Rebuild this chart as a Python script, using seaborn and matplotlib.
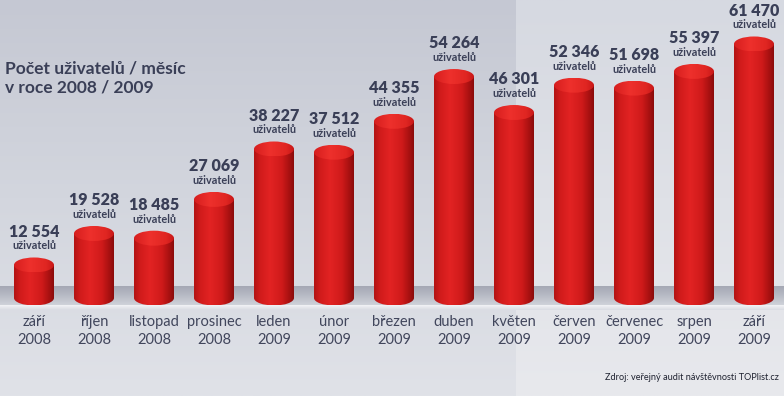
import numpy as np
import matplotlib
matplotlib.use('Agg')
import matplotlib.pyplot as plt
import seaborn as sns
from matplotlib.colors import LinearSegmentedColormap
from matplotlib.patches import Ellipse

months = ['září', 'říjen', 'listopad', 'prosinec', 'leden', 'únor', 'březen',
          'duben', 'květen', 'červen', 'červenec', 'srpen', 'září']
years = ['2008', '2008', '2008', '2008', '2009', '2009', '2009',
         '2009', '2009', '2009', '2009', '2009', '2009']
users = [12554, 19528, 18485, 27069, 38227, 37512, 44355,
         54264, 46301, 52346, 51698, 55397, 61470]
value_labels = ['12 554', '19 528', '18 485', '27 069', '38 227', '37 512', '44 355',
                '54 264', '46 301', '52 346', '51 698', '55 397', '61 470']

TEXT = '#3a3f57'
W, H = 784, 396

sns.set_theme(style='white')
plt.rcParams['font.family'] = ['Lato', 'DejaVu Sans']

fig = plt.figure(figsize=(W / 100, H / 100), dpi=100)
ax = fig.add_axes([0, 0, 1, 1])

# y scale: px per unit ~0.004518, zero ~321.7 px from top
y_lo, y_hi = -16445, 71204
x_lo, x_hi = -34 / 60, (W - 34) / 60
px = (y_hi - y_lo) / H          # data units per pixel
base = y_lo + (H - 298) * px     # cylinder bottom
ell_h = 15 * px
bar_w = 40 / 60

# background panels
grad_v = np.linspace(0, 1, 256).reshape(-1, 1)
left_bg = LinearSegmentedColormap.from_list('lb', ['#c5c8d3', '#d3d6de', '#e0e2e8'])
right_bg = LinearSegmentedColormap.from_list('rb', ['#d6d9e1', '#dfe1e7', '#e8e9ed'])
split = 516 / W
ax.imshow(grad_v, cmap=left_bg, extent=(0, split, 0, 1), transform=ax.transAxes,
          aspect='auto', origin='upper', zorder=0)
ax.imshow(grad_v, cmap=right_bg, extent=(split, 1, 0, 1), transform=ax.transAxes,
          aspect='auto', origin='upper', zorder=0)

# shelf under the cylinders
shelf = LinearSegmentedColormap.from_list('sh', ['#a4a8b4', '#b9bcc6', '#d2d5dc'])
ax.imshow(grad_v, cmap=shelf, extent=(0, 1, 1 - 306 / H, 1 - 286 / H),
          transform=ax.transAxes, aspect='auto', origin='upper', zorder=1)
ax.imshow(grad_v, cmap=LinearSegmentedColormap.from_list('ln', ['#f2f3f6', '#d9dbe2']),
          extent=(0, 1, 1 - 310 / H, 1 - 306 / H), transform=ax.transAxes,
          aspect='auto', origin='upper', zorder=1)

sns.barplot(x=list(range(len(users))), y=users, ax=ax, color='#d41c1c',
            width=bar_w, linewidth=0, zorder=3)

body = LinearSegmentedColormap.from_list(
    'body', [(0, '#b31313'), (0.15, '#d01b1b'), (0.4, '#e22323'),
             (0.7, '#cf1a1a'), (0.9, '#a41010'), (1, '#8a0b0b')])
cap = LinearSegmentedColormap.from_list(
    'cap', [(0, '#d61e1e'), (0.4, '#ee302c'), (0.8, '#e02622'), (1, '#c81818')])
grad_h = np.linspace(0, 1, 256).reshape(1, -1)

for i, p in enumerate(ax.patches):
    top = p.get_height()
    p.set_y(base)
    p.set_height(top - base)
    p.set_facecolor('none')
    x0 = p.get_x()
    x1 = x0 + p.get_width()
    xc = x0 + p.get_width() / 2
    im = ax.imshow(grad_h, cmap=body, extent=(x0, x1, base, top), aspect='auto', zorder=3)
    im.set_clip_path(p)
    bot = Ellipse((xc, base), p.get_width(), ell_h, facecolor='none', linewidth=0, zorder=3)
    ax.add_patch(bot)
    im2 = ax.imshow(grad_h, cmap=body, extent=(x0, x1, base - ell_h / 2, base),
                    aspect='auto', zorder=3)
    im2.set_clip_path(bot)
    tp = Ellipse((xc, top), p.get_width(), ell_h, facecolor='none', linewidth=0, zorder=4)
    ax.add_patch(tp)
    im3 = ax.imshow(grad_h, cmap=cap, extent=(x0, x1, top - ell_h / 2, top + ell_h / 2),
                    aspect='auto', zorder=4)
    im3.set_clip_path(tp)

    ax.annotate(value_labels[i], (xc, top), xytext=(0, 24), textcoords='offset points',
                ha='center', va='center', fontsize=11.5, fontweight='heavy', color=TEXT)
    ax.annotate('uživatelů', (xc, top), xytext=(0, 13.7), textcoords='offset points',
                ha='center', va='center', fontsize=7.8, fontweight='bold', color=TEXT)
    ax.text(xc, 1 - 331 / H, f'{months[i]}\n{years[i]}', transform=ax.get_xaxis_transform(),
            ha='center', va='center', fontsize=10.5, color='#41465c', linespacing=1.3)

ax.text(5 / W, 1 - 78 / H, 'Počet uživatelů / měsíc\nv roce 2008 / 2009',
        transform=ax.transAxes, ha='left', va='center', fontsize=12.5,
        fontweight='bold', color=TEXT, linespacing=1.2)
ax.text(779 / W, 1 - 378 / H, 'Zdroj: veřejný audit návštěvnosti TOPlist.cz',
        transform=ax.transAxes, ha='right', va='center', fontsize=6.6,
        color='#1e2230')

ax.set_xlim(x_lo, x_hi)
ax.set_ylim(y_lo, y_hi)
ax.set_axis_off()

fig.savefig('out.png', dpi=100)
